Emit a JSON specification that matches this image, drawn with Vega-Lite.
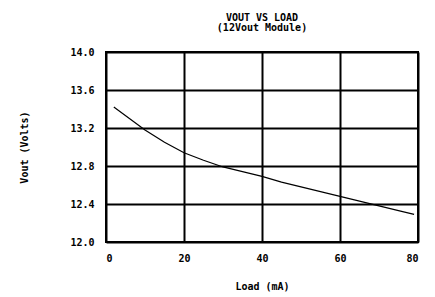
{
  "$schema": "https://vega.github.io/schema/vega-lite/v6.json",
  "width": 312,
  "height": 190,
  "autosize": {"type": "none"},
  "padding": {"left": 106, "top": 52, "right": 17, "bottom": 55},
  "background": "white",
  "title": {
    "text": ["VOUT VS LOAD", "(12Vout Module)"],
    "anchor": "middle",
    "font": "DejaVu Sans Mono",
    "fontSize": 10,
    "fontWeight": "bold",
    "color": "black",
    "lineHeight": 10,
    "offset": 14
  },
  "config": {
    "view": {"stroke": "black", "strokeWidth": 2},
    "axis": {
      "labelFont": "DejaVu Sans Mono",
      "titleFont": "DejaVu Sans Mono",
      "labelFontSize": 10,
      "titleFontSize": 10,
      "labelFontWeight": "bold",
      "titleFontWeight": "bold",
      "labelColor": "black",
      "titleColor": "black",
      "grid": true,
      "gridColor": "black",
      "gridWidth": 2,
      "gridOpacity": 1,
      "domain": false,
      "ticks": false
    }
  },
  "data": {
    "values": [
      {"load": 2, "vout": 13.42},
      {"load": 6, "vout": 13.3},
      {"load": 10, "vout": 13.18},
      {"load": 15, "vout": 13.05},
      {"load": 20, "vout": 12.94},
      {"load": 25, "vout": 12.86},
      {"load": 30, "vout": 12.79},
      {"load": 35, "vout": 12.74},
      {"load": 40, "vout": 12.69},
      {"load": 45, "vout": 12.63},
      {"load": 50, "vout": 12.58},
      {"load": 55, "vout": 12.53},
      {"load": 60, "vout": 12.48},
      {"load": 65, "vout": 12.43},
      {"load": 70, "vout": 12.38},
      {"load": 75, "vout": 12.33},
      {"load": 79, "vout": 12.29}
    ]
  },
  "mark": {"type": "line", "color": "black", "strokeWidth": 1.2},
  "encoding": {
    "x": {
      "field": "load",
      "type": "quantitative",
      "scale": {"domain": [0, 80], "nice": false},
      "axis": {"values": [0, 20, 40, 60, 80], "title": "Load (mA)", "labelPadding": 11, "titlePadding": 18}
    },
    "y": {
      "field": "vout",
      "type": "quantitative",
      "scale": {"domain": [12, 14], "nice": false, "zero": false},
      "axis": {"values": [12, 12.4, 12.8, 13.2, 13.6, 14], "format": ".1f", "title": "Vout (Volts)", "labelPadding": 12, "titlePadding": 40}
    }
  }
}
